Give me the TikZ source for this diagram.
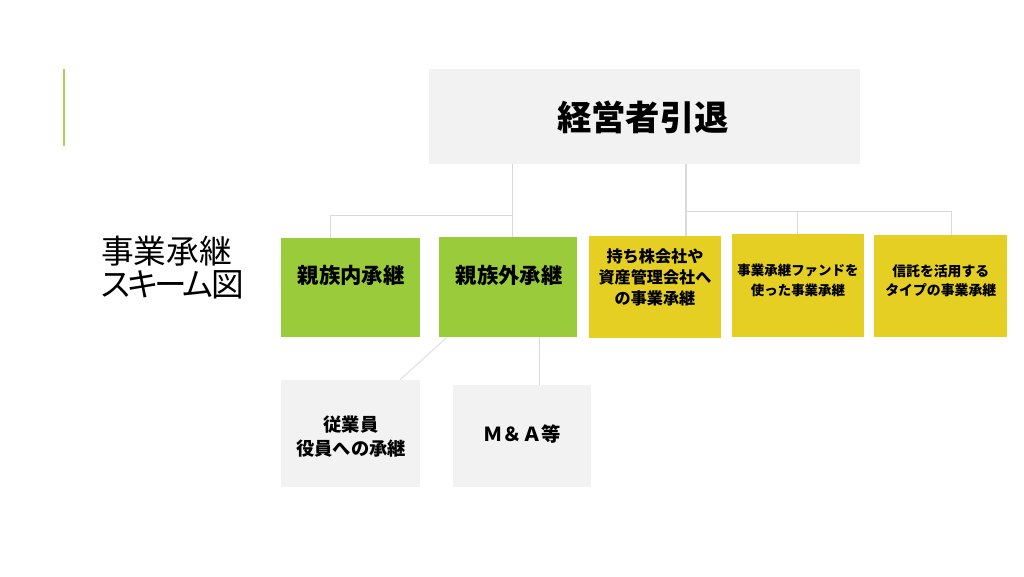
\documentclass[tikz,border=0pt]{standalone}
\usepackage{fontspec}
\setmainfont{Noto Sans CJK JP}
\newfontfamily\titlefont[RawFeature=+palt]{Noto Sans CJK JP}
\definecolor{boxgreen}{RGB}{154,203,58}
\definecolor{boxyellow}{RGB}{229,207,34}
\definecolor{boxgray}{RGB}{242,242,242}
\definecolor{linegray}{RGB}{217,217,217}
\definecolor{accentgreen}{RGB}{168,210,88}
\tikzset{
  box/.style={rectangle, inner sep=0pt, draw=none},
  greenbox/.style={box, fill=boxgreen},
  yellowbox/.style={box, fill=boxyellow},
  graybox/.style={box, fill=boxgray},
  lbl/.style={inner sep=0pt, align=center, text=black},
  conn/.style={draw=linegray, line width=1.1pt},
  thinconn/.style={draw=linegray!80, line width=0.8pt}
}
\begin{document}
\begin{tikzpicture}[x=0.75pt,y=-0.75pt]
\useasboundingbox[fill=white] (0,0) rectangle (1024,576);

% accent line
\draw[accentgreen, line width=1.6pt] (64,69) -- (64,146);

% title
\node[lbl, anchor=west, align=left, font=\titlefont\fontsize{24.5pt}{24.75pt}\selectfont] (title) at (101,267.5) {事業承継\\ス\kern-2.6ptキ\kern-2.6ptー\kern-2.6ptム\kern-1.5pt図};

% boxes
\node[graybox, minimum width=323.25pt, minimum height=71.25pt] (top) at (644.5,116.5) {};
\node[greenbox, minimum width=104.25pt, minimum height=74.25pt] (b1) at (350.5,287.5) {};
\node[greenbox, minimum width=103.5pt, minimum height=75pt] (b2) at (508,287) {};
\node[yellowbox, minimum width=99pt, minimum height=76.5pt] (b3) at (655,287) {};
\node[yellowbox, minimum width=99pt, minimum height=77.25pt] (b4) at (798,285.5) {};
\node[yellowbox, minimum width=99.4pt, minimum height=76.5pt] (b5) at (940.25,286) {};
\node[graybox, minimum width=104.25pt, minimum height=80.25pt] (b6) at (350.5,433.5) {};
\node[graybox, minimum width=103.5pt, minimum height=76.5pt] (b7) at (522,436) {};

% labels
\node[lbl, font=\bfseries\fontsize{25.8pt}{30pt}\selectfont] (ttop) at (643,117) {経営者引退};
\node[lbl, font=\bfseries\fontsize{16pt}{20pt}\selectfont] (t1) at (351,275) {親族内承継};
\node[lbl, font=\bfseries\fontsize{16pt}{20pt}\selectfont] (t2) at (509,275) {親族外承継};
\node[lbl, font=\bfseries\fontsize{12.1pt}{15.75pt}\selectfont] (t3) at (655,277.3) {持ち株会社や\\資産管理会社へ\\の事業承継};
\node[lbl, font=\bfseries\fontsize{10.1pt}{14.5pt}\selectfont] (t4) at (798,280.3) {事業承継ファンドを\\使った事業承継};
\node[lbl, font=\bfseries\fontsize{10.4pt}{13.7pt}\selectfont] (t5) at (940.8,280.8) {信託を活用する\\タイプの事業承継};
\node[lbl, font=\bfseries\fontsize{13.7pt}{17.5pt}\selectfont] (t6) at (351,436.7) {従業員\\役員への承継};
\node[lbl, font=\bfseries\fontsize{14.5pt}{18pt}\selectfont] (t7) at (522,434.3) {Ｍ＆Ａ等};

% connectors
\coordinate (jl) at (512.5,215.3);
\coordinate (jll) at (330.7,215.3);
\coordinate (jr) at (686,211.7);
\coordinate (jrm) at (797.7,211.7);
\coordinate (jrr) at (951.3,211.7);
\coordinate (dtop) at (447,337);
\coordinate (dbot) at (400,380);
\coordinate (mv) at (539.5,337);

\draw[conn] (top.south -| jl) -- (b2.north -| jl);
\draw[conn] (jl) -- (jll) -- (b1.north -| jll);
\draw[conn] (top.south -| jr) -- (b3.north -| jr);
\draw[conn] (jr) -- (jrr) -- (b5.north -| jrr);
\draw[conn] (jrm) -- (b4.north -| jrm);
\draw[thinconn] (b2.south -| dtop) -- (b6.north -| dbot);
\draw[conn] (b2.south -| mv) -- (b7.north -| mv);
\end{tikzpicture}
\end{document}
